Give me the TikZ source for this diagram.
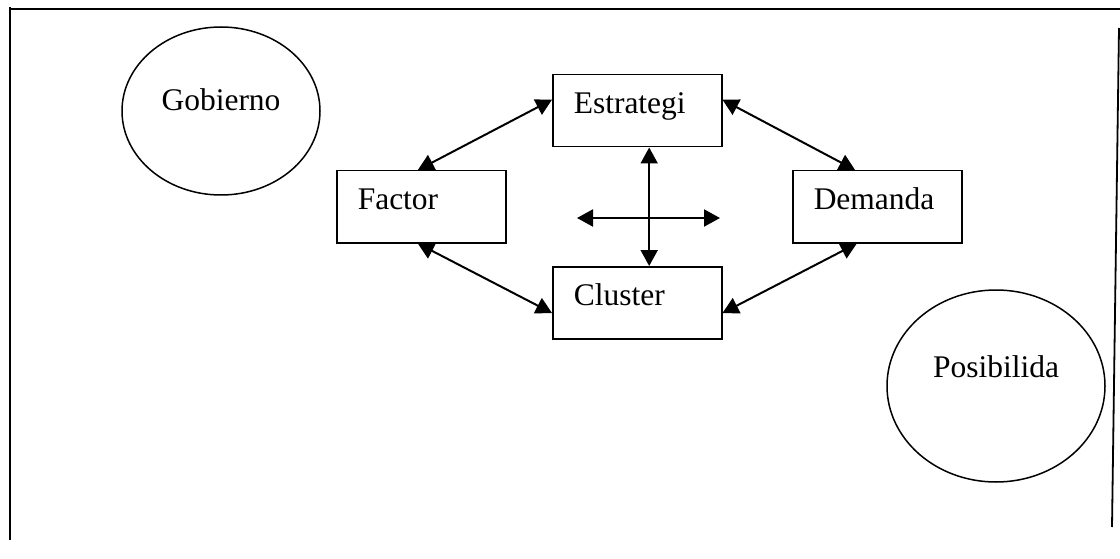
\documentclass[tikz,border=0pt]{standalone}
\usepackage{fontspec}
\setmainfont{Liberation Serif}
\usetikzlibrary{arrows.meta,shapes.geometric,calc}
\begin{document}
\begin{tikzpicture}[x=1pt,y=-1pt,
  every node/.style={font=\fontsize{31.5}{36}\selectfont},
  box/.style={draw,line width=1.5pt,rectangle,anchor=north west,minimum width=169pt,minimum height=72pt,
    inner ysep=0pt,inner xsep=21pt,text width=127pt,align=left,text height=39pt,text depth=33pt},
  oval/.style={draw,line width=1.5pt,ellipse,inner sep=0pt},
  link/.style={line width=2pt,{Triangle[length=16pt,width=17pt]}-{Triangle[length=16pt,width=17pt]}},
  frame/.style={line width=2pt}]
\useasboundingbox (0,0) rectangle (1120,559);
% frame
\coordinate (tl) at (9,9.5);
\coordinate (tr) at (1120,9.5);
\coordinate (lt) at (10,7);
\coordinate (lb) at (10,540);
\coordinate (rt) at (1119,28);
\coordinate (rb) at (1112,527);
\draw[frame] (tl) -- (tr);
\draw[frame] (lt) -- (lb);
\draw[frame,line width=1.8pt] (rt) -- (rb);
% ellipses
\node[oval,minimum width=198pt,minimum height=168pt,text height=11pt,text depth=11pt] (gob) at (221,111) {Gobierno};
\node[oval,minimum width=218pt,minimum height=192pt,text height=12pt,text depth=30pt] (pos) at (996,386) {Posibilida};
% boxes
\node[box] (est) at (552,74) {Estrategi};
\node[box] (fac) at (336,170) {Factor};
\node[box] (clu) at (552,266) {Cluster};
\node[box] (dem) at (792,170) {Demanda};
% connectors
\draw[link] ($(est.north west)!0.35!(est.south west)$) -- ($(fac.north west)!0.48!(fac.north east)$);
\draw[link] ($(fac.south west)!0.48!(fac.south east)$) -- ($(clu.north west)!0.64!(clu.south west)$);
\draw[link] ($(est.north east)!0.35!(est.south east)$) -- ($(dem.north west)!0.37!(dem.north east)$);
\draw[link] ($(clu.north east)!0.64!(clu.south east)$) -- ($(dem.south west)!0.38!(dem.south east)$);
\draw[link] ($(est.south west)!0.57!(est.south east)$) -- ($(clu.north west)!0.57!(clu.north east)$);
\coordinate (hl) at (577,218);
\coordinate (hr) at (720,218);
\draw[link] (hl) -- (hr);
\end{tikzpicture}
\end{document}
